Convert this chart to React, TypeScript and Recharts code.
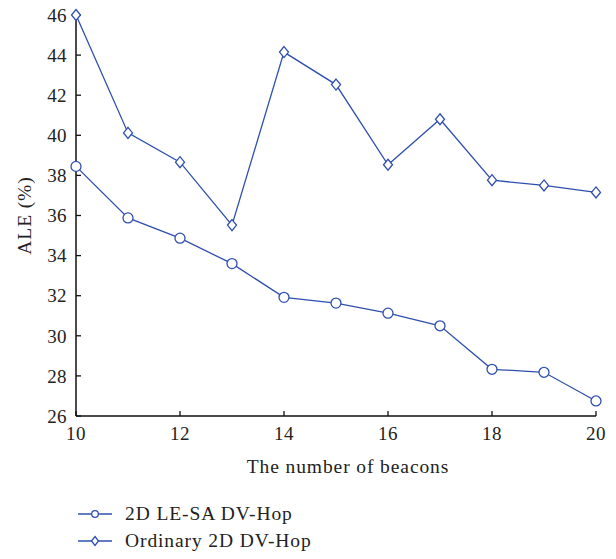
import React from 'react';
import { LineChart, Line, XAxis, YAxis, Legend } from 'recharts';

const beacons = [10, 11, 12, 13, 14, 15, 16, 17, 18, 19, 20];
const leSaValues = [38.45, 35.88, 34.87, 33.6, 31.92, 31.63, 31.13, 30.5, 28.33, 28.18, 26.75];
const ordinaryValues = [46.0, 40.12, 38.66, 35.52, 44.15, 42.53, 38.53, 40.8, 37.76, 37.5, 37.15];
const xTicks = [10, 12, 14, 16, 18, 20];
const yTicks = [26, 28, 30, 32, 34, 36, 38, 40, 42, 44, 46];
const seriesNames = ['2D LE-SA DV-Hop', 'Ordinary 2D DV-Hop'];

const data = beacons.map((b, i) => ({ x: b, a: leSaValues[i], b: ordinaryValues[i] }));

const BLUE = '#2f4fae';
const FONT = '"Liberation Serif", "DejaVu Serif", serif';

const Diamond = (props: any) => {
  const { cx, cy, key } = props;
  if (cx == null || cy == null) return null;
  return (
    <polygon
      key={key}
      points={`${cx},${cy - 5.5} ${cx + 4.5},${cy} ${cx},${cy + 5.5} ${cx - 4.5},${cy}`}
      fill="#fff"
      stroke={BLUE}
      strokeWidth={1.3}
    />
  );
};

const LegendContent = () => (
  <div style={{ fontFamily: FONT, fontSize: 19.5, color: '#222', letterSpacing: 0.9 }}>
    {seriesNames.map((name, i) => (
      <div key={name} style={{ display: 'flex', alignItems: 'center', height: 27.5 }}>
        <svg width={40} height={14} style={{ marginRight: 7 }}>
          <line x1={0} y1={7} x2={34} y2={7} stroke={BLUE} strokeWidth={1.3} />
          {i === 0 ? (
            <circle cx={17} cy={7} r={3.3} fill="#fff" stroke={BLUE} strokeWidth={1.3} />
          ) : (
            <polygon points="17,2.5 20.5,7 17,11.5 13.5,7" fill="#fff" stroke={BLUE} strokeWidth={1.3} />
          )}
        </svg>
        <span>{name}</span>
      </div>
    ))}
  </div>
);

export default function App() {
  return (
    <div style={{ position: 'absolute', left: 0, top: 0, background: '#fff' }}>
      <LineChart width={616} height={559} data={data} margin={{ top: 15, right: 20, left: 0, bottom: 83 }}>
        <XAxis
          dataKey="x"
          type="number"
          domain={[10, 20]}
          ticks={xTicks}
          height={60}
          axisLine={{ stroke: '#111', strokeWidth: 1.5 }}
          tickLine={{ stroke: '#111', strokeWidth: 1.3 }}
          tickSize={-5}
          tickMargin={16}
          tick={{ fill: '#222', fontFamily: FONT, fontSize: 19, letterSpacing: 0.4 }}
          label={(p: any) => {
            const vb = p.viewBox;
            return (
              <text x={vb.x + vb.width / 2 + 12} y={vb.y + 57} textAnchor="middle" fill="#222" fontFamily={FONT} fontSize={19.5} letterSpacing={0.9}>
                The number of beacons
              </text>
            );
          }}
        />
        <YAxis
          type="number"
          domain={[26, 46]}
          ticks={yTicks}
          width={76}
          axisLine={{ stroke: '#111', strokeWidth: 1.5 }}
          tickLine={{ stroke: '#111', strokeWidth: 1.3 }}
          tickSize={-5}
          tickMargin={14}
          tick={{ fill: '#222', fontFamily: FONT, fontSize: 19, letterSpacing: 0.4 }}
          label={(p: any) => {
            const vb = p.viewBox;
            const cy = vb.y + vb.height / 2;
            return (
              <text x={31} y={cy} transform={`rotate(-90, 31, ${cy})`} textAnchor="middle" fill="#222" fontFamily={FONT} fontSize={19.5} letterSpacing={0.9}>
                ALE (%)
              </text>
            );
          }}
        />
        <Legend
          layout="horizontal"
          verticalAlign="middle"
          align="center"
          content={<LegendContent />}
          wrapperStyle={{ left: 78, top: 500, width: 320 }}
        />
        <Line
          dataKey="a"
          name={seriesNames[0]}
          stroke={BLUE}
          strokeWidth={1.3}
          dot={{ r: 5, fill: '#fff', stroke: BLUE, strokeWidth: 1.3 }}
          isAnimationActive={false}
        />
        <Line
          dataKey="b"
          name={seriesNames[1]}
          stroke={BLUE}
          strokeWidth={1.3}
          dot={Diamond}
          isAnimationActive={false}
        />
      </LineChart>
    </div>
  );
}
